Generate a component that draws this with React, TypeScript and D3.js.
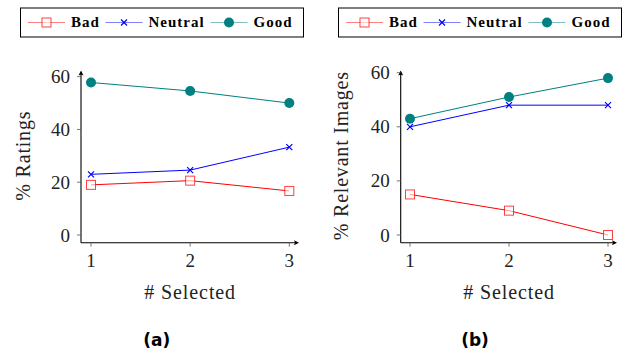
import React from "react";
import * as d3 from "d3";

// values
const selected = [1, 2, 3];
const yTickValues = [0, 20, 40, 60];

const ratingsBad = [19, 20.6, 16.7];
const ratingsNeutral = [23, 24.6, 33.3];
const ratingsGood = [57.8, 54.6, 50];

const relevantBad = [15, 9, 0];
const relevantNeutral = [40, 48, 48];
const relevantGood = [43, 51, 58];

const seriesNames = ["Bad", "Neutral", "Good"];
const seriesColors = ["#ff0000", "#0000ff", "#008080"];
const legendLineColors = ["#ff8080", "#8080ff", "#80bfbf"];

const SERIF = "'Liberation Serif', 'DejaVu Serif', serif";

const Marker = ({ kind, x, y, color }: { kind: string; x: number; y: number; color: string }) => {
	if (kind === "Bad") {
		return <rect x={x - 4.5} y={y - 4.5} width={9} height={9} fill="white" fillOpacity={0.6} stroke={color} strokeOpacity={0.75} strokeWidth={1} />;
	}
	if (kind === "Neutral") {
		return (
			<path d={`M${x - 3},${y - 3}L${x + 3},${y + 3}M${x - 3},${y + 3}L${x + 3},${y - 3}`} stroke={color} strokeWidth={1.2} fill="none" />
		);
	}
	return <circle cx={x} cy={y} r={5} fill={color} />;
};

const Legend = ({ left }: { left: number }) => {
	const top = 8;
	const cy = 22.5;
	const lineStarts = [7.5, 85, 190];
	const textStarts = [50.5, 128, 233];
	return (
		<g>
			<rect x={left} y={top} width={283} height={29} fill="white" stroke="black" strokeWidth={1} />
			{seriesNames.map((name, i) => (
				<g key={name}>
					<line x1={left + lineStarts[i]} x2={left + lineStarts[i] + 37} y1={cy} y2={cy} stroke={legendLineColors[i]} strokeWidth={1.2} />
					<Marker kind={name} x={left + lineStarts[i] + 18.5} y={cy} color={seriesColors[i]} />
					<text x={left + textStarts[i]} y={cy + 4.8} fontFamily={SERIF} fontWeight="bold" fontSize={15} letterSpacing={1}>
						{name}
					</text>
				</g>
			))}
		</g>
	);
};

type PanelProps = {
	axisX: number;
	xRange: [number, number];
	xEnd: number;
	yTop60: number;
	ylabel: string;
	ylabelX: number;
	bad: number[];
	neutral: number[];
	good: number[];
};

const Panel = ({ axisX, xRange, xEnd, yTop60, ylabel, ylabelX, bad, neutral, good }: PanelProps) => {
	const axisY = 242.7;
	const x = d3.scaleLinear().domain([1, 3]).range(xRange);
	const y = d3.scaleLinear().domain([0, 60]).range([235, yTop60]);
	const line = d3
		.line<number>()
		.x((_, i) => x(selected[i]))
		.y((d) => y(d));
	const all = [bad, neutral, good];
	const yArrowTop = 70.5;

	return (
		<g>
			{/* data */}
			{all.map((vals, s) => (
				<g key={s}>
					<path d={line(vals) || ""} fill="none" stroke={seriesColors[s]} strokeWidth={1} />
					{vals.map((v, i) => (
						<Marker key={i} kind={seriesNames[s]} x={x(selected[i])} y={y(v)} color={seriesColors[s]} />
					))}
				</g>
			))}

			{/* axes */}
			<line x1={axisX} x2={axisX} y1={axisY} y2={yArrowTop + 2} stroke="black" strokeWidth={1.1} />
			<path d={`M${axisX},${yArrowTop}L${axisX - 2.5},${yArrowTop + 5}L${axisX},${yArrowTop + 4}L${axisX + 2.5},${yArrowTop + 5}Z`} fill="black" />
			<line x1={axisX} x2={xEnd - 2} y1={axisY} y2={axisY} stroke="black" strokeWidth={1.1} />
			<path d={`M${xEnd},${axisY}L${xEnd - 5},${axisY - 2.5}L${xEnd - 4},${axisY}L${xEnd - 5},${axisY + 2.5}Z`} fill="black" />

			{yTickValues.map((t) => (
				<g key={t}>
					<line x1={axisX - 4} x2={axisX} y1={y(t)} y2={y(t)} stroke="#555" strokeWidth={0.8} />
					<text x={axisX - 11} y={y(t) + 6.5} textAnchor="end" fontFamily={SERIF} fontSize={19} fill="#222">
						{t}
					</text>
				</g>
			))}
			{selected.map((t) => (
				<g key={t}>
					<line x1={x(t)} x2={x(t)} y1={axisY} y2={axisY + 4} stroke="#555" strokeWidth={0.8} />
					<text x={x(t)} y={267} textAnchor="middle" fontFamily={SERIF} fontSize={19} fill="#222">
						{t}
					</text>
				</g>
			))}

			<text x={(xRange[0] + xRange[1]) / 2} y={299} textAnchor="middle" fontFamily={SERIF} fontSize={20} letterSpacing={0.9} fill="#222">
				# Selected
			</text>
			<text transform={`translate(${ylabelX},155.7) rotate(-90)`} textAnchor="middle" fontFamily={SERIF} fontSize={20} letterSpacing={0.8} fill="#222">
				{ylabel}
			</text>
		</g>
	);
};

export default function App() {
	return (
		<svg width={628} height={354} style={{ position: "absolute", left: 0, top: 0, background: "white" }}>
			<rect width={628} height={354} fill="white" />
			<Legend left={20.5} />
			<Legend left={338.5} />
			<Panel
				axisX={81}
				xRange={[91, 289.3]}
				xEnd={299}
				yTop60={76.7}
				ylabel="% Ratings"
				ylabelX={30}
				bad={ratingsBad}
				neutral={ratingsNeutral}
				good={ratingsGood}
			/>
			<Panel
				axisX={400.7}
				xRange={[410, 608]}
				xEnd={617}
				yTop60={72.7}
				ylabel="% Relevant Images"
				ylabelX={348}
				bad={relevantBad}
				neutral={relevantNeutral}
				good={relevantGood}
			/>
			<text x={156.7} y={346} textAnchor="middle" fontFamily="'DejaVu Sans', sans-serif" fontWeight="bold" fontSize={17}>
				(a)
			</text>
			<text x={475} y={346} textAnchor="middle" fontFamily="'DejaVu Sans', sans-serif" fontWeight="bold" fontSize={17}>
				(b)
			</text>
		</svg>
	);
}
